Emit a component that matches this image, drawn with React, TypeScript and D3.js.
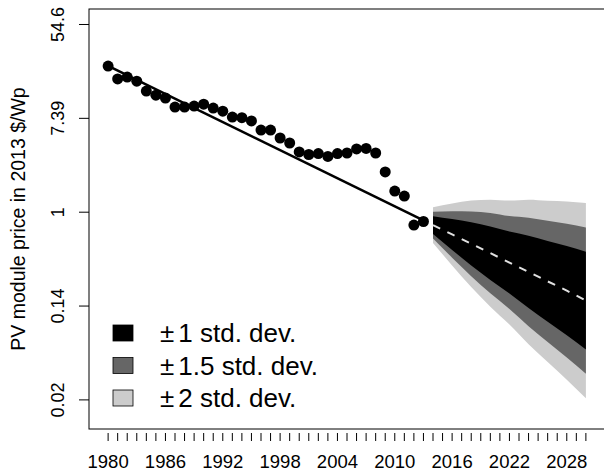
import React, { useEffect, useRef } from "react";
import * as d3 from "d3";

// observed module prices, 2013 $/Wp
const years = [
  1980, 1981, 1982, 1983, 1984, 1985, 1986, 1987, 1988, 1989, 1990, 1991,
  1992, 1993, 1994, 1995, 1996, 1997, 1998, 1999, 2000, 2001, 2002, 2003,
  2004, 2005, 2006, 2007, 2008, 2009, 2010, 2011, 2012, 2013,
];
const prices = [
  22.5, 17.1, 17.8, 16.3, 13.2, 12.1, 11.4, 9.4, 9.4, 9.6, 10.0, 9.2, 8.6,
  7.6, 7.5, 7.0, 5.76, 5.76, 4.86, 4.37, 3.61, 3.42, 3.49, 3.28, 3.49, 3.53,
  3.85, 3.89, 3.53, 2.36, 1.57, 1.41, 0.76, 0.82,
];

const trendYears = [1980, 2013];
const trendPrices = [22.6, 0.84];

// forecast: median price and std. dev. of log price
const forecastYears = [2014, 2016, 2018, 2020, 2022, 2024, 2026, 2028, 2030];
const forecastMedian = [0.76, 0.622, 0.51, 0.418, 0.342, 0.28, 0.229, 0.188, 0.152];
const forecastSd = [0.19, 0.33, 0.46, 0.57, 0.66, 0.77, 0.86, 0.95, 1.04];

const yTickLog = [-4, -2, 0, 2, 4];
const yTickLabels = ["0.02", "0.14", "1", "7.39", "54.6"];
const xTickYears = d3.range(1980, 2031);
const xLabelYears = [1980, 1986, 1992, 1998, 2004, 2010, 2016, 2022, 2028];

const bands = [
  { k: 2, fill: "#cccccc", label: "2 std. dev." },
  { k: 1.5, fill: "#666666", label: "1.5 std. dev." },
  { k: 1, fill: "#000000", label: "1 std. dev." },
];

const W = 604;
const H = 473;
const FONT = "'Liberation Sans', Arial, Helvetica, sans-serif";

const App: React.FC = () => {
  const svgRef: any = useRef();

  useEffect(() => {
    const svg = d3.select(svgRef.current);
    svg.selectAll("*").remove();

    const left = 89;
    const right = 605;
    const top = 9;
    const bottom = 429;

    const x = d3.scaleLinear().domain([1978, 2032]).range([left, right]);
    const y = d3
      .scaleLinear()
      .domain([-4.62, 4.33])
      .range([bottom, top]);

    const fc = forecastYears.map((yr, i) => ({
      yr,
      m: Math.log(forecastMedian[i]),
      sd: forecastSd[i],
    }));

    // fan
    bands.forEach((b) => {
      const area: any = d3
        .area()
        .x((d: any) => x(d.yr))
        .y0((d: any) => y(d.m - b.k * d.sd))
        .y1((d: any) => y(d.m + b.k * d.sd))
        .curve(d3.curveMonotoneX);
      svg.append("path").datum(fc).attr("fill", b.fill).attr("d", area);
    });

    const medLine: any = d3
      .line()
      .x((d: any) => x(d.yr))
      .y((d: any) => y(d.m));
    svg
      .append("path")
      .datum(fc)
      .attr("fill", "none")
      .attr("stroke", "#e0e0e0")
      .attr("stroke-width", 2)
      .attr("stroke-dasharray", "8,8")
      .attr("d", medLine);

    // trend line
    const trend = trendYears.map((yr, i) => ({ yr, v: Math.log(trendPrices[i]) }));
    const trendLine: any = d3
      .line()
      .x((d: any) => x(d.yr))
      .y((d: any) => y(d.v));
    svg
      .append("path")
      .datum(trend)
      .attr("fill", "none")
      .attr("stroke", "#000")
      .attr("stroke-width", 2.6)
      .attr("d", trendLine);

    // points
    svg
      .selectAll("circle.pt")
      .data(years.map((yr, i) => ({ yr, v: Math.log(prices[i]) })))
      .enter()
      .append("circle")
      .attr("class", "pt")
      .attr("cx", (d) => x(d.yr))
      .attr("cy", (d) => y(d.v))
      .attr("r", 5.5)
      .attr("fill", "#000");

    // box
    svg
      .append("rect")
      .attr("x", left)
      .attr("y", top)
      .attr("width", right - left)
      .attr("height", bottom - top)
      .attr("fill", "none")
      .attr("stroke", "#000")
      .attr("stroke-width", 1);

    // y axis
    yTickLog.forEach((t, i) => {
      svg
        .append("line")
        .attr("x1", left - 10)
        .attr("x2", left)
        .attr("y1", y(t))
        .attr("y2", y(t))
        .attr("stroke", "#000");
      svg
        .append("text")
        .attr("transform", `translate(64,${y(t)}) rotate(-90)`)
        .attr("text-anchor", "middle")
        .attr("font-family", FONT)
        .attr("font-size", "18px")
        .text(yTickLabels[i]);
    });

    svg
      .append("text")
      .attr("transform", `translate(25,${(top + bottom) / 2}) rotate(-90)`)
      .attr("text-anchor", "middle")
      .attr("font-family", FONT)
      .attr("font-size", "19.5px")
      .text("PV module price in 2013 $/Wp");

    // x axis
    xTickYears.forEach((t) => {
      svg
        .append("line")
        .attr("x1", x(t))
        .attr("x2", x(t))
        .attr("y1", 433)
        .attr("y2", 441)
        .attr("stroke", "#000");
    });
    xLabelYears.forEach((t) => {
      svg
        .append("text")
        .attr("x", x(t))
        .attr("y", 468)
        .attr("text-anchor", "middle")
        .attr("font-family", FONT)
        .attr("font-size", "18.5px")
        .text(t);
    });

    // legend
    const legend = [...bands].reverse();
    legend.forEach((b, i) => {
      const cy = 333 + i * 32.5;
      svg
        .append("rect")
        .attr("x", 113)
        .attr("y", cy - 8)
        .attr("width", 20)
        .attr("height", 16)
        .attr("fill", b.fill)
        .attr("stroke", "#000")
        .attr("stroke-width", 0.8);
      const txt = svg
        .append("text")
        .attr("x", 160)
        .attr("y", cy + 9)
        .attr("font-family", FONT)
        .attr("font-size", "26px");
      txt.append("tspan").text("\u00B1");
      txt.append("tspan").attr("dx", 4).text(b.label);
    });
  }, []);

  return (
    <svg
      ref={svgRef}
      width={W}
      height={H}
      style={{ position: "absolute", left: 0, top: 0, background: "#fff" }}
    />
  );
};

export default App;
